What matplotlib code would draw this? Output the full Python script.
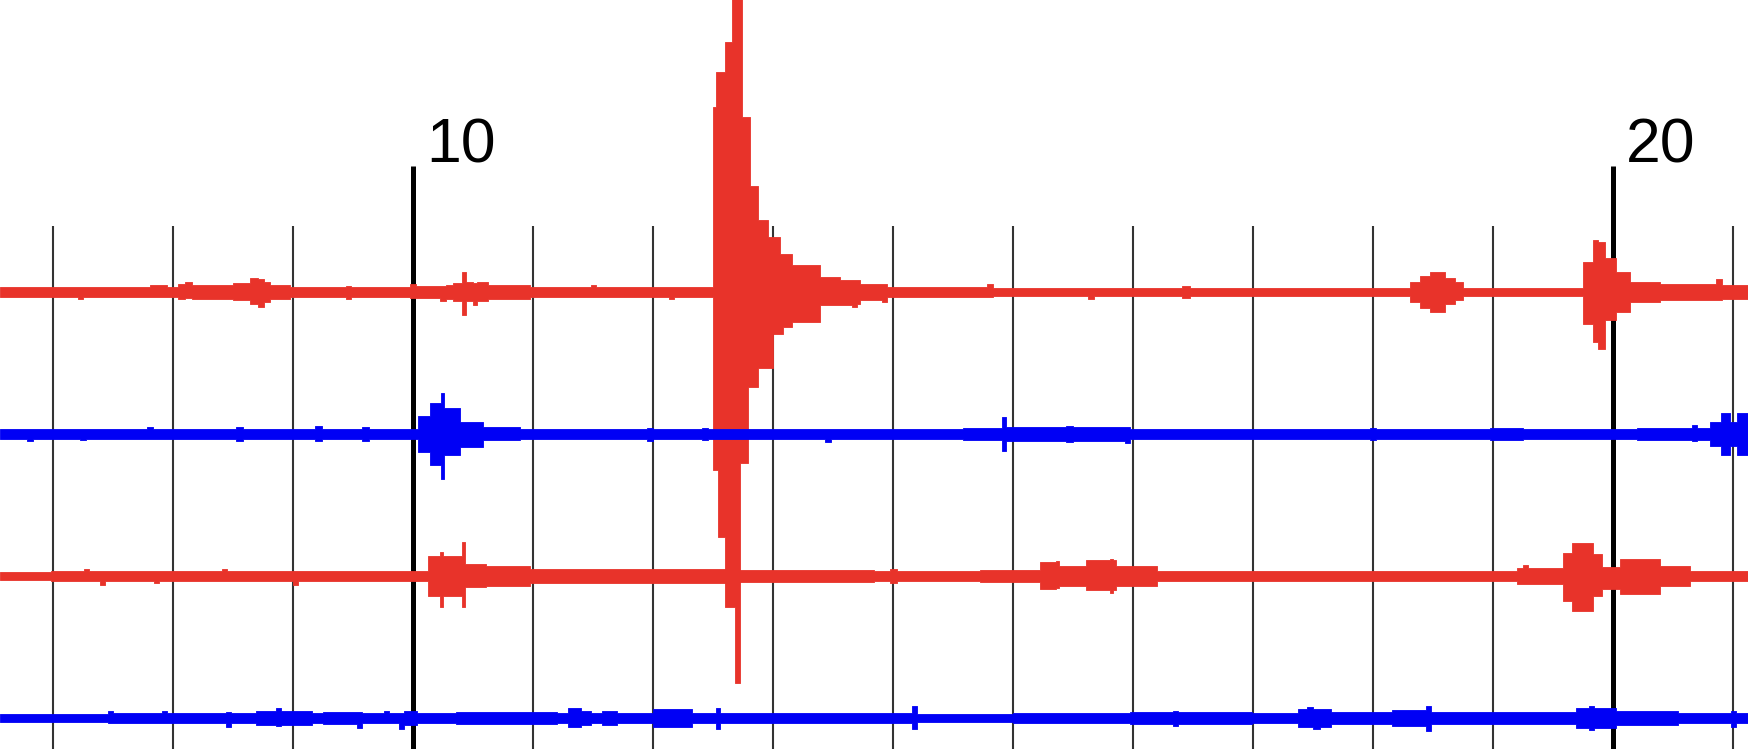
import matplotlib.pyplot as plt
import numpy as np

#######################################
#### Helicorder data
#### each block: (start minute, upward swing, downward swing) in counts
#######################################
trace1 = [(6.56, 5, 5), (7.21, 5, 7), (7.25, 5, 5), (7.81, 7, 5), (7.95, 5, 5),
          (8.04, 8, 7), (8.10, 10, 6), (8.16, 7, 7), (8.50, 9, 8), (8.64, 14, 12),
          (8.71, 13, 15), (8.76, 10, 10), (8.81, 7, 7), (8.97, 5, 5), (9.44, 6, 7),
          (9.48, 5, 5), (9.97, 8, 6), (10.02, 6, 6), (10.22, 6, 9), (10.27, 7, 7),
          (10.33, 9, 9), (10.41, 20, 23), (10.44, 10, 9), (10.50, 9, 13), (10.53, 10, 9),
          (10.62, 7, 7), (10.97, 5, 5), (11.48, 7, 5), (11.52, 5, 5), (12.13, 5, 7),
          (12.17, 5, 5),
          (12.50, 185, 178), (12.52, 220, 178), (12.54, 220, 245), (12.60, 250, 315),
          (12.66, 300, 315), (12.68, 300, 391), (12.72, 300, 171), (12.74, 175, 171),
          (12.79, 175, 95), (12.81, 106, 95), (12.87, 72, 76), (12.96, 55, 76),
          (13.00, 55, 42), (13.06, 38, 42), (13.08, 38, 35), (13.16, 27, 30),
          (13.39, 15, 13), (13.56, 12, 13), (13.66, 12, 15), (13.70, 12, 12),
          (13.72, 8, 8), (13.91, 8, 10), (13.95, 5, 5), (14.78, 8, 5), (14.83, 4, 4),
          (15.62, 4, 7), (15.67, 4, 4), (16.41, 6, 6), (16.47, 4, 4),
          (18.31, 10, 10), (18.39, 16, 16), (18.47, 20, 20), (18.60, 14, 12),
          (18.68, 10, 8), (18.75, 4, 4),
          (19.75, 30, 32), (19.83, 52, 50), (19.87, 50, 57), (19.93, 34, 28),
          (20.02, 20, 20), (20.14, 10, 10), (20.39, 8, 8), (20.86, 13, 8), (20.91, 7, 7)]

trace2 = [(6.56, 5, 5), (6.78, 5, 7), (6.83, 5, 5), (7.22, 5, 6), (7.27, 5, 5),
          (7.78, 7, 5), (7.83, 5, 5), (8.52, 7, 7), (8.58, 5, 5), (9.18, 8, 7),
          (9.24, 5, 5), (9.57, 7, 7), (9.63, 5, 5),
          (10.04, 18, 18), (10.14, 31, 31), (10.23, 41, 45), (10.26, 26, 21),
          (10.39, 12, 13), (10.58, 7, 6), (10.89, 5, 5),
          (11.95, 6, 7), (12.00, 5, 5), (12.41, 6, 6), (12.46, 5, 5), (13.43, 5, 8),
          (13.48, 5, 5), (14.58, 6, 6), (14.91, 17, 17), (14.94, 7, 7), (15.44, 8, 8),
          (15.50, 7, 7), (15.93, 7, 9), (15.97, 5, 5),
          (17.97, 6, 6), (18.02, 5, 5), (18.97, 6, 6), (19.25, 5, 5),
          (20.20, 6, 6), (20.66, 9, 7), (20.70, 6, 6), (20.81, 12, 12),
          (20.90, 21, 21), (20.97, 12, 12), (21.03, 21, 21)]

trace3 = [(6.56, 4, 4), (6.98, 5, 5), (7.26, 7, 5), (7.30, 5, 5), (7.39, 5, 9),
          (7.43, 5, 5), (7.84, 5, 7), (7.88, 5, 5), (8.41, 7, 5), (8.45, 5, 5),
          (9.00, 5, 9), (9.04, 5, 5),
          (10.12, 20, 20), (10.22, 24, 31), (10.25, 20, 20), (10.41, 34, 31),
          (10.43, 12, 11), (10.61, 10, 10), (10.97, 7, 7), (12.69, 6, 6), (13.84, 5, 5),
          (13.97, 7, 7), (14.03, 5, 5), (14.72, 6, 6), (15.22, 14, 13), (15.36, 15, 12),
          (15.38, 10, 10), (15.61, 16, 14), (15.81, 17, 17), (15.83, 16, 14),
          (15.86, 10, 10), (16.20, 5, 5),
          (19.20, 8, 8), (19.25, 11, 8), (19.29, 8, 8), (19.58, 23, 25), (19.66, 33, 35),
          (19.83, 22, 20), (19.91, 9, 13), (20.06, 17, 18), (20.39, 10, 10), (20.64, 5, 5)]

trace4 = [(6.56, 4, 4), (7.46, 7, 5), (7.50, 5, 5), (7.91, 7, 5), (7.95, 5, 5),
          (8.44, 6, 9), (8.48, 5, 5), (8.69, 7, 7), (8.86, 10, 8), (8.90, 7, 7),
          (9.16, 5, 5), (9.25, 6, 6), (9.53, 6, 10), (9.57, 5, 5), (9.76, 7, 5),
          (9.80, 5, 5), (9.88, 5, 11), (9.92, 7, 7), (10.03, 5, 5), (10.36, 6, 6),
          (11.20, 5, 5), (11.29, 10, 9), (11.40, 7, 7), (11.48, 5, 5), (11.57, 7, 7),
          (11.70, 5, 5), (12.00, 9, 9), (12.32, 5, 5), (12.52, 10, 11), (12.56, 5, 5),
          (14.16, 12, 11), (14.20, 4, 4), (15.00, 5, 5), (15.97, 6, 6), (16.33, 7, 8),
          (16.37, 6, 6), (16.99, 5, 5), (17.37, 9, 9), (17.45, 11, 9), (17.50, 9, 11),
          (17.56, 9, 9), (17.65, 6, 6), (18.16, 8, 8), (18.44, 12, 13), (18.48, 6, 6),
          (19.00, 6, 6), (19.69, 10, 10), (19.80, 12, 12), (19.84, 10, 10),
          (20.02, 7, 7), (20.54, 5, 5), (20.98, 7, 9), (21.02, 5, 5)]

traces = [trace1, trace2, trace3, trace4]
trace_colors = ["#e8332a", "#0000f5", "#e8332a", "#0000f5"]
labeled_minutes = [10, 20]

#######################################
#### Layout
#######################################
T0, T1 = 6.556, 21.123          # visible window, minutes
SPACING = 142                   # counts between trace centres
Y_TOP, Y_BOT = 292.5, -456.7
THIN_TOP, THICK_TOP = 66.5, 126.5

fig = plt.figure(figsize=(17.48, 7.49), dpi=100)
ax = fig.add_axes([0, 0, 1, 1])
ax.set_xlim(T0, T1)
ax.set_ylim(Y_BOT, Y_TOP)
ax.axis("off")

#### minute marks
for m in range(7, 22):
   if m in labeled_minutes:
      ax.vlines(m, Y_BOT, THICK_TOP, color="black", lw=3.6, zorder=1)
      ax.text(m + 0.105, 129.5, str(m), fontsize=45, family="Liberation Sans",
              va="baseline", ha="left", color="black")
   else:
      ax.vlines(m, Y_BOT, THIN_TOP, color="#333333", lw=1.5, zorder=1)

#### traces
for k, (blocks, c) in enumerate(zip(traces, trace_colors)):
   arr = np.array(blocks + [(T1 + 0.05, blocks[-1][1], blocks[-1][2])], dtype=float)
   off = -k * SPACING
   ax.fill_between(arr[:, 0], off - arr[:, 2], off + arr[:, 1], step="post",
                   color=c, lw=0.6, zorder=3 + k)

fig.savefig("out.png", dpi=100)
